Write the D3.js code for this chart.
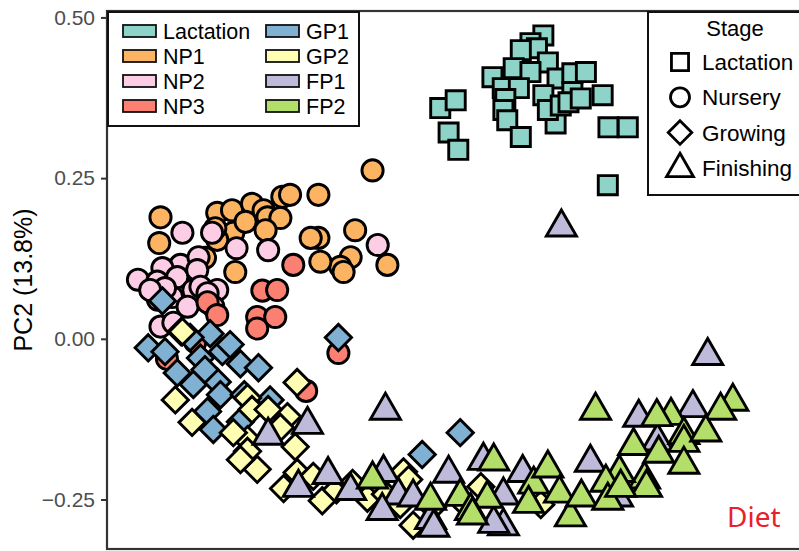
<!DOCTYPE html>
<html>
<head>
<meta charset="utf-8">
<script src="https://cdn.jsdelivr.net/npm/d3@7"></script>
<style>
  html, body { margin: 0; padding: 0; background: #fff; }
  svg { display: block; font-family: "Liberation Sans", Arial, sans-serif; }
</style>
</head>
<body>
<svg id="chart" width="799" height="551"></svg>
<script>
// Sample groups (fill) and the stage each group belongs to (shape)
const groups = ["Lactation", "NP1", "NP2", "NP3", "GP1", "GP2", "FP1", "FP2"];
const groupColors = ["#8DD3C7", "#FDB462", "#FCCDE5", "#FB8072", "#80B1D3", "#FFFFB3", "#BEBADA", "#B3DE69"];
const groupStage = ["Lactation", "Nursery", "Nursery", "Nursery", "Growing", "Growing", "Finishing", "Finishing"];
const stages = ["Lactation", "Nursery", "Growing", "Finishing"];
const yTicks = [-0.25, 0, 0.25, 0.5];
const yTickLabels = ["\u22120.25", "0.00", "0.25", "0.50"];

// PCA scores [PC1, PC2] per group
const lactation = [
  [0.377,0.472],[0.357,0.460],[0.367,0.452],[0.342,0.449],[0.384,0.430],[0.331,0.421],
  [0.357,0.415],[0.298,0.407],[0.399,0.405],[0.314,0.390],[0.339,0.390],[0.318,0.373],
  [0.315,0.356],[0.321,0.340],[0.342,0.314],[0.396,0.335],[0.377,0.379],[0.384,0.356],
  [0.404,0.363],[0.422,0.413],[0.443,0.415],[0.422,0.384],[0.416,0.368],[0.435,0.374],
  [0.469,0.379],[0.478,0.329],[0.508,0.329],[0.477,0.239],[0.217,0.359],[0.241,0.371],
  [0.230,0.321],[0.245,0.294]
];
const np1 = [
  [0.112,0.262],[-0.217,0.189],[-0.219,0.149],[-0.129,0.196],[-0.106,0.200],[-0.075,0.210],
  [-0.057,0.200],[-0.051,0.189],[-0.031,0.188],[-0.054,0.169],[-0.028,0.221],[-0.016,0.224],
  [0.028,0.224],[0.085,0.169],[0.028,0.157],[0.016,0.157],[0.078,0.127],[0.135,0.115],
  [0.062,0.112],[0.067,0.104],[0.031,0.120],[-0.104,0.165],[-0.101,0.104],[-0.129,0.154],
  [-0.085,0.182],[-0.148,0.126],[-0.132,0.172]
];
const np2 = [
  [-0.183,0.165],[-0.137,0.165],[-0.099,0.141],[-0.050,0.138],[0.120,0.146],[-0.186,0.115],
  [-0.158,0.127],[-0.214,0.110],[-0.252,0.092],[-0.222,0.089],[-0.191,0.096],[-0.160,0.107],
  [-0.129,0.076],[-0.166,0.076],[-0.199,0.065],[-0.221,0.061],[-0.175,0.050],[-0.217,0.019],
  [-0.197,0.025],[-0.155,0.081],[-0.144,0.071],[-0.135,0.050],[-0.210,0.079],[-0.233,0.076]
];
const np3 = [
  [-0.011,0.115],[-0.059,0.075],[-0.036,0.076],[-0.067,0.034],[-0.039,0.034],[-0.067,0.016],
  [-0.144,0.057],[-0.129,0.037],[0.059,-0.022],[0.009,-0.081],[-0.207,-0.031],[-0.163,-0.005]
];
const gp1 = [
  [-0.214,0.059],[-0.236,-0.014],[-0.210,-0.020],[-0.185,0.011],[-0.140,0.008],[-0.155,-0.030],
  [-0.121,-0.020],[-0.093,-0.039],[-0.065,-0.045],[0.059,0.002],[-0.191,-0.053],[-0.166,-0.071],
  [-0.129,-0.067],[-0.144,-0.113],[-0.124,-0.087],[-0.087,-0.087],[-0.047,-0.095],[-0.093,-0.129],
  [-0.135,-0.141],[0.248,-0.146],[0.189,-0.180],[-0.171,0.002],[-0.109,-0.009],[-0.148,-0.048]
];
const gp2 = [
  [-0.183,0.011],[-0.005,-0.068],[-0.194,-0.095],[-0.168,-0.130],[-0.082,-0.092],[-0.082,-0.157],
  [-0.104,-0.146],[-0.067,-0.203],[-0.008,-0.168],[-0.020,-0.121],[-0.031,-0.138],[-0.075,-0.110],
  [-0.082,-0.175],[-0.093,-0.188],[-0.026,-0.233],[-0.005,-0.208],[0.034,-0.252],[0.056,-0.235],
  [0.081,-0.225],[0.104,-0.248],[0.020,-0.214],[0.160,-0.207],[0.168,-0.219],[0.175,-0.290],
  [0.205,-0.262],[0.280,-0.230],[-0.050,-0.110],[0.132,-0.242],[0.155,-0.258],[0.256,-0.258],
  [0.373,-0.258]
];
const fp1 = [
  [0.405,0.175],[0.632,-0.025],[0.132,-0.110],[0.011,-0.132],[-0.050,-0.149],[-0.003,-0.230],
  [0.043,-0.210],[0.129,-0.207],[0.152,-0.242],[0.127,-0.266],[0.202,-0.280],[0.207,-0.292],
  [0.230,-0.208],[0.284,-0.188],[0.315,-0.290],[0.315,-0.242],[0.345,-0.207],[0.450,-0.191],
  [0.609,-0.106],[0.525,-0.121],[0.554,-0.158],[0.492,-0.245],[0.300,-0.286],[0.175,-0.245],
  [0.078,-0.235]
];
const fp2 = [
  [0.458,-0.110],[0.671,-0.096],[0.652,-0.110],[0.575,-0.118],[0.553,-0.120],[0.517,-0.165],
  [0.595,-0.148],[0.595,-0.160],[0.556,-0.177],[0.595,-0.194],[0.534,-0.217],[0.495,-0.207],
  [0.474,-0.222],[0.537,-0.230],[0.300,-0.189],[0.362,-0.225],[0.384,-0.200],[0.402,-0.239],
  [0.419,-0.276],[0.436,-0.245],[0.477,-0.250],[0.354,-0.255],[0.290,-0.247],[0.248,-0.244],
  [0.264,-0.266],[0.202,-0.250],[0.112,-0.217],[0.267,-0.273],[0.497,-0.230],[0.629,-0.144]
];
const groupData = [lactation, np1, np2, np3, gp1, gp2, fp1, fp2];

const svg = d3.select("#chart");
const panel = { left: 107, top: 11, right: 816, bottom: 549 };

const x = d3.scaleLinear().domain([-0.3, 0.8]).range([panel.left, panel.right]);
const y = d3.scaleLinear().domain([-0.327, 0.51]).range([panel.bottom, panel.top]);

const fill = d3.scaleOrdinal().domain(groups).range(groupColors);

// Shape paths: ggplot-style filled square, circle, diamond, triangle
function shapePath(stage, s) {
  const p = d3.path();
  if (stage === "Lactation") {
    const h = s * 0.9;
    p.rect(-h, -h, 2 * h, 2 * h);
  } else if (stage === "Nursery") {
    p.arc(0, 0, s, 0, 2 * Math.PI);
  } else if (stage === "Growing") {
    const d = s * 1.24;
    p.moveTo(0, -d); p.lineTo(d, 0); p.lineTo(0, d); p.lineTo(-d, 0); p.closePath();
  } else {
    const w = s * 1.42, ht = w * Math.sqrt(3);
    p.moveTo(0, -ht * 2 / 3 + 1); p.lineTo(w, ht / 3 + 1); p.lineTo(-w, ht / 3 + 1); p.closePath();
  }
  return p.toString();
}

svg.append("defs").append("clipPath").attr("id", "panelClip")
  .append("rect").attr("x", panel.left).attr("y", panel.top)
  .attr("width", panel.right - panel.left).attr("height", panel.bottom - panel.top);

// Points
const pts = svg.append("g").attr("clip-path", "url(#panelClip)");
groups.forEach((g, gi) => {
  pts.selectAll(null)
    .data(groupData[gi])
    .enter().append("path")
    .attr("d", shapePath(groupStage[gi], 10.6))
    .attr("transform", d => `translate(${x(d[0])},${y(d[1])})`)
    .attr("fill", fill(g))
    .attr("stroke", "#000")
    .attr("stroke-width", 2.9)
    .attr("stroke-linejoin", "miter");
});

// Panel border
svg.append("rect")
  .attr("x", panel.left).attr("y", panel.top)
  .attr("width", panel.right - panel.left).attr("height", panel.bottom - panel.top)
  .attr("fill", "none").attr("stroke", "#333").attr("stroke-width", 2.2);

// Y axis
const yAxis = d3.axisLeft(y).tickValues(yTicks).tickSize(6).tickPadding(6)
  .tickFormat((d, i) => yTickLabels[i]);
const yg = svg.append("g").attr("transform", `translate(${panel.left},0)`).call(yAxis);
yg.select(".domain").remove();
yg.selectAll(".tick line").attr("stroke", "#333").attr("stroke-width", 2);
yg.selectAll(".tick text").attr("fill", "#4d4d4d").style("font-size", "21px")
  .style("font-family", "'Liberation Sans', Arial, sans-serif");

svg.append("text")
  .attr("transform", "translate(32,280) rotate(-90)")
  .attr("text-anchor", "middle")
  .style("font-size", "25px")
  .text("PC2 (13.8%)");

// Fill legend
const fl = svg.append("g");
fl.append("rect").attr("x", 108).attr("y", 12).attr("width", 251).attr("height", 114)
  .attr("fill", "#fff").attr("stroke", "#111").attr("stroke-width", 2);
groups.forEach((g, i) => {
  const col = Math.floor(i / 4), row = i % 4;
  const kx = col === 0 ? 123 : 266;
  const cy = 31 + row * 25;
  fl.append("rect").attr("x", kx).attr("y", cy - 6).attr("width", 33).attr("height", 12)
    .attr("fill", fill(g)).attr("stroke", "#111").attr("stroke-width", 1.8);
  fl.append("text").attr("x", kx + 40).attr("y", cy + 7.5)
    .style("font-size", "21.5px").text(g);
});

// Stage legend
const sl = svg.append("g");
sl.append("rect").attr("x", 648).attr("y", 12).attr("width", 170).attr("height", 183)
  .attr("fill", "#fff").attr("stroke", "#111").attr("stroke-width", 2);
sl.append("text").attr("x", 735).attr("y", 36).attr("text-anchor", "middle")
  .style("font-size", "22px").text("Stage");
stages.forEach((s, i) => {
  const cy = 62 + i * 35.3;
  sl.append("path").attr("d", shapePath(s, 9.5))
    .attr("transform", `translate(680,${cy})`)
    .attr("fill", "#fff").attr("stroke", "#000").attr("stroke-width", 2.8);
  sl.append("text").attr("x", 702).attr("y", cy + 8)
    .style("font-size", "22.5px").text(s);
});

// Panel tag
svg.append("text").attr("x", 727).attr("y", 527)
  .attr("fill", "#E8202A")
  .style("font-family", "'Noto Sans', 'Open Sans', sans-serif")
  .style("font-size", "28px").text("Diet");
</script>
</body>
</html>
